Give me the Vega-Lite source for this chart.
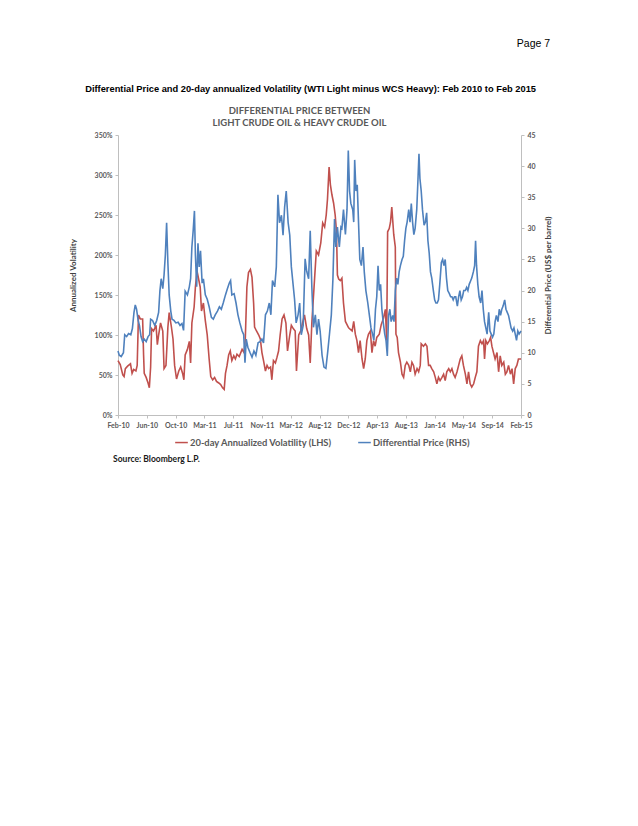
{
  "$schema": "https://vega.github.io/schema/vega-lite/v6.json",
  "background": "white",
  "padding": {"left": 69, "top": 38, "right": 10, "bottom": 10},
  "title": {"text": "Page 7", "anchor": "end", "font": "Liberation Sans", "fontSize": 10.5, "fontWeight": "normal", "color": "#000000", "offset": 36, "dx": -2},
  "datasets": {
    "vol": [
      {"day":0,"vol":0.68},{"day":7,"vol":0.63},{"day":15,"vol":0.50},{"day":19,"vol":0.48},{"day":23,"vol":0.58},{"day":30,"vol":0.61},{"day":39,"vol":0.64},{"day":44,"vol":0.52},{"day":49,"vol":0.57},{"day":56,"vol":0.55},{"day":60,"vol":0.62},{"day":64,"vol":1.25},{"day":70,"vol":1.20},{"day":77,"vol":1.20},{"day":80,"vol":0.75},{"day":82,"vol":0.52},{"day":88,"vol":0.47},{"day":94,"vol":0.40},{"day":98,"vol":0.34},{"day":102,"vol":0.60},{"day":105,"vol":1.08},{"day":111,"vol":1.05},{"day":119,"vol":1.12},{"day":123,"vol":0.88},{"day":127,"vol":1.00},{"day":133,"vol":1.15},{"day":140,"vol":1.05},{"day":144,"vol":0.58},{"day":150,"vol":0.62},{"day":156,"vol":1.10},{"day":160,"vol":1.28},{"day":167,"vol":1.10},{"day":172,"vol":0.95},{"day":177,"vol":0.62},{"day":183,"vol":0.45},{"day":190,"vol":0.55},{"day":196,"vol":0.60},{"day":202,"vol":0.52},{"day":206,"vol":0.44},{"day":210,"vol":0.75},{"day":217,"vol":0.82},{"day":223,"vol":0.92},{"day":227,"vol":0.65},{"day":231,"vol":1.15},{"day":238,"vol":1.35},{"day":242,"vol":1.60},{"day":247,"vol":1.80},{"day":252,"vol":1.70},{"day":257,"vol":1.60},{"day":261,"vol":1.30},{"day":267,"vol":1.40},{"day":273,"vol":1.18},{"day":279,"vol":1.00},{"day":285,"vol":0.70},{"day":290,"vol":0.48},{"day":296,"vol":0.44},{"day":302,"vol":0.47},{"day":308,"vol":0.42},{"day":315,"vol":0.40},{"day":321,"vol":0.38},{"day":327,"vol":0.34},{"day":332,"vol":0.32},{"day":336,"vol":0.52},{"day":341,"vol":0.62},{"day":346,"vol":0.75},{"day":351,"vol":0.80},{"day":356,"vol":0.68},{"day":362,"vol":0.74},{"day":367,"vol":0.70},{"day":372,"vol":0.76},{"day":379,"vol":0.73},{"day":388,"vol":0.82},{"day":394,"vol":0.78},{"day":398,"vol":0.95},{"day":403,"vol":1.60},{"day":408,"vol":1.78},{"day":414,"vol":1.82},{"day":419,"vol":1.72},{"day":424,"vol":1.40},{"day":427,"vol":1.10},{"day":433,"vol":1.05},{"day":440,"vol":1.00},{"day":445,"vol":0.95},{"day":450,"vol":0.78},{"day":455,"vol":0.68},{"day":461,"vol":0.55},{"day":466,"vol":0.62},{"day":471,"vol":0.58},{"day":477,"vol":0.60},{"day":481,"vol":0.44},{"day":486,"vol":0.68},{"day":492,"vol":0.65},{"day":497,"vol":0.72},{"day":502,"vol":0.80},{"day":507,"vol":1.00},{"day":513,"vol":1.20},{"day":519,"vol":1.25},{"day":525,"vol":1.15},{"day":530,"vol":0.80},{"day":537,"vol":1.00},{"day":542,"vol":1.12},{"day":548,"vol":1.08},{"day":554,"vol":1.05},{"day":558,"vol":0.55},{"day":565,"vol":1.00},{"day":571,"vol":1.05},{"day":577,"vol":1.15},{"day":583,"vol":1.25},{"day":590,"vol":1.08},{"day":596,"vol":1.00},{"day":601,"vol":0.65},{"day":606,"vol":1.15},{"day":613,"vol":1.60},{"day":620,"vol":2.05},{"day":627,"vol":2.00},{"day":634,"vol":2.15},{"day":640,"vol":2.40},{"day":646,"vol":2.35},{"day":651,"vol":2.50},{"day":655,"vol":2.70},{"day":660,"vol":3.10},{"day":664,"vol":2.88},{"day":669,"vol":2.75},{"day":674,"vol":2.65},{"day":679,"vol":2.50},{"day":683,"vol":2.30},{"day":686,"vol":1.75},{"day":690,"vol":1.70},{"day":695,"vol":1.68},{"day":700,"vol":1.71},{"day":705,"vol":1.40},{"day":711,"vol":1.17},{"day":721,"vol":1.09},{"day":732,"vol":1.05},{"day":737,"vol":1.17},{"day":742,"vol":1.01},{"day":747,"vol":0.93},{"day":752,"vol":0.78},{"day":757,"vol":0.93},{"day":763,"vol":0.70},{"day":768,"vol":0.58},{"day":773,"vol":0.70},{"day":778,"vol":0.93},{"day":783,"vol":1.01},{"day":789,"vol":1.05},{"day":794,"vol":0.78},{"day":799,"vol":0.93},{"day":804,"vol":0.86},{"day":809,"vol":0.97},{"day":817,"vol":1.01},{"day":823,"vol":1.13},{"day":830,"vol":1.21},{"day":836,"vol":1.32},{"day":840,"vol":0.93},{"day":843,"vol":2.29},{"day":848,"vol":2.33},{"day":852,"vol":2.41},{"day":856,"vol":2.60},{"day":862,"vol":2.26},{"day":867,"vol":2.10},{"day":869,"vol":1.01},{"day":873,"vol":0.97},{"day":877,"vol":0.78},{"day":883,"vol":0.66},{"day":888,"vol":0.51},{"day":893,"vol":0.47},{"day":898,"vol":0.62},{"day":903,"vol":0.66},{"day":909,"vol":0.62},{"day":914,"vol":0.54},{"day":919,"vol":0.66},{"day":924,"vol":0.62},{"day":929,"vol":0.51},{"day":935,"vol":0.58},{"day":940,"vol":0.54},{"day":945,"vol":0.62},{"day":948,"vol":0.89},{"day":955,"vol":0.86},{"day":961,"vol":0.89},{"day":966,"vol":0.86},{"day":971,"vol":0.62},{"day":976,"vol":0.62},{"day":981,"vol":0.58},{"day":987,"vol":0.54},{"day":992,"vol":0.47},{"day":997,"vol":0.39},{"day":1002,"vol":0.47},{"day":1007,"vol":0.43},{"day":1013,"vol":0.47},{"day":1018,"vol":0.51},{"day":1023,"vol":0.43},{"day":1028,"vol":0.54},{"day":1034,"vol":0.58},{"day":1039,"vol":0.54},{"day":1044,"vol":0.58},{"day":1049,"vol":0.51},{"day":1054,"vol":0.47},{"day":1060,"vol":0.54},{"day":1065,"vol":0.62},{"day":1070,"vol":0.70},{"day":1075,"vol":0.74},{"day":1080,"vol":0.62},{"day":1086,"vol":0.51},{"day":1091,"vol":0.39},{"day":1096,"vol":0.54},{"day":1101,"vol":0.39},{"day":1106,"vol":0.35},{"day":1112,"vol":0.39},{"day":1117,"vol":0.47},{"day":1122,"vol":0.54},{"day":1127,"vol":0.86},{"day":1133,"vol":0.93},{"day":1138,"vol":0.89},{"day":1143,"vol":0.93},{"day":1146,"vol":0.70},{"day":1150,"vol":0.93},{"day":1155,"vol":0.89},{"day":1161,"vol":0.93},{"day":1165,"vol":0.97},{"day":1169,"vol":0.86},{"day":1174,"vol":0.78},{"day":1179,"vol":0.70},{"day":1185,"vol":0.78},{"day":1190,"vol":0.54},{"day":1195,"vol":0.74},{"day":1200,"vol":0.62},{"day":1206,"vol":0.66},{"day":1211,"vol":0.51},{"day":1216,"vol":0.54},{"day":1221,"vol":0.62},{"day":1227,"vol":0.51},{"day":1232,"vol":0.58},{"day":1237,"vol":0.39},{"day":1242,"vol":0.58},{"day":1247,"vol":0.62},{"day":1252,"vol":0.70},{"day":1260,"vol":0.70}
    ],
    "price": [
      {"day":0,"price":10.3},{"day":4,"price":9.6},{"day":10,"price":9.4},{"day":17,"price":10.0},{"day":21,"price":12.9},{"day":27,"price":12.6},{"day":33,"price":13.1},{"day":40,"price":12.9},{"day":45,"price":13.9},{"day":50,"price":16.5},{"day":54,"price":17.7},{"day":58,"price":17.0},{"day":63,"price":15.2},{"day":67,"price":14.4},{"day":72,"price":12.6},{"day":77,"price":11.8},{"day":82,"price":12.2},{"day":88,"price":11.8},{"day":94,"price":12.6},{"day":99,"price":12.9},{"day":102,"price":15.4},{"day":108,"price":15.2},{"day":115,"price":14.4},{"day":121,"price":15.2},{"day":127,"price":16.5},{"day":131,"price":19.9},{"day":135,"price":21.9},{"day":140,"price":20.3},{"day":144,"price":22.5},{"day":148,"price":25.7},{"day":152,"price":30.9},{"day":156,"price":24.4},{"day":160,"price":19.3},{"day":165,"price":16.7},{"day":169,"price":15.4},{"day":175,"price":15.2},{"day":181,"price":14.8},{"day":188,"price":14.9},{"day":194,"price":14.4},{"day":200,"price":14.7},{"day":205,"price":13.6},{"day":210,"price":19.9},{"day":217,"price":19.3},{"day":223,"price":20.6},{"day":227,"price":21.9},{"day":231,"price":27.0},{"day":235,"price":29.6},{"day":239,"price":32.8},{"day":242,"price":25.7},{"day":246,"price":20.6},{"day":250,"price":27.6},{"day":254,"price":23.8},{"day":258,"price":26.4},{"day":263,"price":21.2},{"day":267,"price":21.9},{"day":273,"price":19.3},{"day":279,"price":18.6},{"day":285,"price":17.4},{"day":292,"price":15.7},{"day":298,"price":15.4},{"day":304,"price":16.1},{"day":311,"price":16.7},{"day":317,"price":17.4},{"day":323,"price":17.0},{"day":329,"price":18.0},{"day":336,"price":19.3},{"day":342,"price":20.3},{"day":348,"price":21.2},{"day":352,"price":21.6},{"day":356,"price":19.3},{"day":363,"price":19.5},{"day":369,"price":18.0},{"day":375,"price":16.1},{"day":381,"price":14.8},{"day":388,"price":13.5},{"day":393,"price":12.9},{"day":397,"price":8.4},{"day":401,"price":12.2},{"day":406,"price":10.9},{"day":413,"price":10.0},{"day":419,"price":9.3},{"day":425,"price":10.3},{"day":431,"price":9.6},{"day":438,"price":11.6},{"day":444,"price":11.8},{"day":450,"price":12.2},{"day":455,"price":11.6},{"day":461,"price":16.1},{"day":467,"price":16.7},{"day":473,"price":18.0},{"day":478,"price":16.1},{"day":483,"price":21.6},{"day":490,"price":20.6},{"day":495,"price":23.8},{"day":500,"price":35.4},{"day":505,"price":30.9},{"day":511,"price":32.1},{"day":516,"price":28.9},{"day":521,"price":33.4},{"day":526,"price":36.0},{"day":532,"price":30.9},{"day":537,"price":28.9},{"day":542,"price":23.8},{"day":547,"price":21.2},{"day":552,"price":18.6},{"day":557,"price":14.8},{"day":563,"price":16.1},{"day":568,"price":18.0},{"day":573,"price":12.9},{"day":579,"price":14.4},{"day":585,"price":25.1},{"day":590,"price":23.1},{"day":596,"price":21.9},{"day":601,"price":29.6},{"day":606,"price":20.6},{"day":611,"price":14.1},{"day":617,"price":16.1},{"day":622,"price":12.9},{"day":627,"price":15.4},{"day":632,"price":13.5},{"day":638,"price":9.6},{"day":644,"price":7.7},{"day":650,"price":7.5},{"day":656,"price":10.3},{"day":661,"price":12.9},{"day":667,"price":16.1},{"day":672,"price":21.9},{"day":677,"price":31.5},{"day":681,"price":27.0},{"day":686,"price":30.2},{"day":692,"price":27.0},{"day":697,"price":30.2},{"day":700,"price":30},{"day":705,"price":33},{"day":711,"price":29},{"day":716,"price":33},{"day":720,"price":42.5},{"day":724,"price":36},{"day":728,"price":34},{"day":734,"price":33},{"day":737,"price":31},{"day":740,"price":41},{"day":744,"price":36},{"day":748,"price":37},{"day":752,"price":31},{"day":756,"price":25},{"day":761,"price":24},{"day":766,"price":27},{"day":770,"price":23},{"day":775,"price":20},{"day":781,"price":18},{"day":786,"price":16},{"day":791,"price":14},{"day":796,"price":13},{"day":800,"price":12},{"day":805,"price":17},{"day":809,"price":19},{"day":813,"price":24},{"day":817,"price":20},{"day":821,"price":21},{"day":825,"price":17},{"day":829,"price":15},{"day":834,"price":13},{"day":838,"price":12},{"day":842,"price":9.5},{"day":846,"price":16},{"day":850,"price":17},{"day":854,"price":15},{"day":859,"price":16},{"day":863,"price":15},{"day":867,"price":20},{"day":871,"price":22},{"day":875,"price":21},{"day":879,"price":23},{"day":883,"price":24},{"day":888,"price":25},{"day":892,"price":25.5},{"day":896,"price":28},{"day":900,"price":30},{"day":904,"price":31},{"day":909,"price":33},{"day":913,"price":31},{"day":917,"price":34},{"day":921,"price":31},{"day":925,"price":29},{"day":929,"price":30},{"day":934,"price":33},{"day":938,"price":38},{"day":941,"price":42},{"day":944,"price":38},{"day":948,"price":36},{"day":952,"price":33},{"day":957,"price":30.5},{"day":961,"price":31},{"day":965,"price":32.5},{"day":969,"price":28},{"day":973,"price":26},{"day":977,"price":23},{"day":981,"price":22},{"day":986,"price":20},{"day":990,"price":18.5},{"day":994,"price":18},{"day":998,"price":18},{"day":1002,"price":18.5},{"day":1006,"price":21},{"day":1011,"price":24.5},{"day":1015,"price":25},{"day":1019,"price":24},{"day":1023,"price":25},{"day":1027,"price":22},{"day":1031,"price":20},{"day":1036,"price":19.5},{"day":1040,"price":19},{"day":1044,"price":19},{"day":1048,"price":18.5},{"day":1052,"price":19},{"day":1056,"price":19},{"day":1061,"price":17.5},{"day":1065,"price":19},{"day":1069,"price":20},{"day":1073,"price":18.5},{"day":1077,"price":19},{"day":1081,"price":20},{"day":1086,"price":20},{"day":1090,"price":20.5},{"day":1094,"price":20},{"day":1098,"price":21},{"day":1102,"price":21.5},{"day":1106,"price":22},{"day":1111,"price":23},{"day":1115,"price":24},{"day":1118,"price":28},{"day":1121,"price":24},{"day":1125,"price":21},{"day":1129,"price":19},{"day":1134,"price":18},{"day":1138,"price":20},{"day":1142,"price":17},{"day":1146,"price":15},{"day":1150,"price":14},{"day":1154,"price":13},{"day":1159,"price":16.5},{"day":1163,"price":13.5},{"day":1167,"price":13},{"day":1171,"price":12.5},{"day":1175,"price":13},{"day":1179,"price":15},{"day":1183,"price":16},{"day":1188,"price":15},{"day":1192,"price":17},{"day":1196,"price":16},{"day":1200,"price":17},{"day":1204,"price":17.5},{"day":1209,"price":18.5},{"day":1213,"price":17},{"day":1217,"price":16.5},{"day":1221,"price":16},{"day":1225,"price":15},{"day":1229,"price":14},{"day":1234,"price":13.5},{"day":1238,"price":14},{"day":1242,"price":13},{"day":1246,"price":12},{"day":1250,"price":13.5},{"day":1254,"price":13},{"day":1260,"price":13.5}
    ]
  },
  "vconcat": [
    {
      "title": {"text": "Differential Price and 20-day annualized Volatility (WTI Light minus WCS Heavy): Feb 2010 to Feb 2015", "anchor": "middle", "font": "Liberation Sans", "fontSize": 9.3, "fontWeight": "bold", "color": "#000000", "offset": 11},
      "resolve": {"scale": {"color": "independent"}, "legend": {"color": "independent"}},
      "vconcat": [
        {
          "title": {"text": "Source: Bloomberg L.P.", "orient": "bottom", "anchor": "start", "font": "Lato", "fontSize": 8.5, "fontWeight": "bold", "color": "#1a1a1a", "offset": 8, "dx": 44},
          "resolve": {"scale": {"color": "independent"}, "legend": {"color": "independent"}},
          "vconcat": [
            {
              "width": 403,
              "height": 280,
              "title": {"text": ["DIFFERENTIAL PRICE BETWEEN", "LIGHT CRUDE OIL & HEAVY CRUDE OIL"], "anchor": "middle", "font": "Lato", "fontSize": 9.5, "fontWeight": "bold", "color": "#595959", "lineHeight": 12, "offset": 4, "dx": -20},
              "resolve": {"scale": {"y": "independent"}},
              "encoding": {
                "x": {"field": "day", "type": "quantitative", "scale": {"domain": [0, 1260], "nice": false, "zero": false},
                  "axis": {"values": [0,90,180,270,360,450,540,630,720,810,900,990,1080,1170,1260], "labelExpr": "['Feb-10','Jun-10','Oct-10','Mar-11','Jul-11','Nov-11','Mar-12','Aug-12','Dec-12','Apr-13','Aug-13','Jan-14','May-14','Sep-14','Feb-15'][round(datum.value/90)]", "title": null, "labelOverlap": false, "labelFlush": false, "labelSeparation": 0}}
              },
              "layer": [
                {
                  "data": {"name": "vol"},
                  "mark": {"type": "line", "strokeWidth": 1.6, "interpolate": "linear"},
                  "encoding": {
                    "y": {"field": "vol", "type": "quantitative", "scale": {"domain": [0, 3.5], "nice": false},
                      "axis": {"orient": "left", "values": [0,0.5,1,1.5,2,2.5,3,3.5], "format": ".0%", "title": "Annualized Volatility", "titlePadding": 17}},
                    "color": {"datum": "20-day Annualized Volatility (LHS)", "type": "nominal",
                      "scale": {"domain": ["20-day Annualized Volatility (LHS)", "Differential Price (RHS)"], "range": ["#C0504D", "#4F81BD"]},
                      "legend": {"orient": "none", "legendX": 56, "legendY": 300, "direction": "horizontal", "title": null, "symbolType": "stroke", "symbolSize": 160, "symbolStrokeWidth": 1.5, "labelFont": "Lato", "labelFontSize": 9.4, "labelFontWeight": "bold", "labelColor": "#595959", "columnPadding": 22, "labelOffset": 1}}
                  }
                },
                {
                  "data": {"name": "price"},
                  "mark": {"type": "line", "strokeWidth": 1.6, "interpolate": "linear"},
                  "encoding": {
                    "y": {"field": "price", "type": "quantitative", "scale": {"domain": [0, 45], "nice": false},
                      "axis": {"orient": "right", "values": [0,5,10,15,20,25,30,35,40,45], "title": "Differential Price (US$ per barrel)", "titleAngle": 270, "titlePadding": 17}},
                    "color": {"datum": "Differential Price (RHS)", "type": "nominal"}
                  }
                }
              ]
            }
          ]
        }
      ]
    }
  ],
  "config": {
    "view": {"stroke": null},
    "axis": {"grid": false, "domainColor": "#bfbfbf", "tickColor": "#bfbfbf", "tickSize": 3, "labelFont": "Lato", "labelFontSize": 7, "labelFontWeight": "bold", "labelColor": "#595959", "labelPadding": 3, "titleFont": "Lato", "titleFontSize": 8, "titleFontWeight": "bold", "titleColor": "#404040"},
    "legend": {"labelLimit": 300}
  }
}
